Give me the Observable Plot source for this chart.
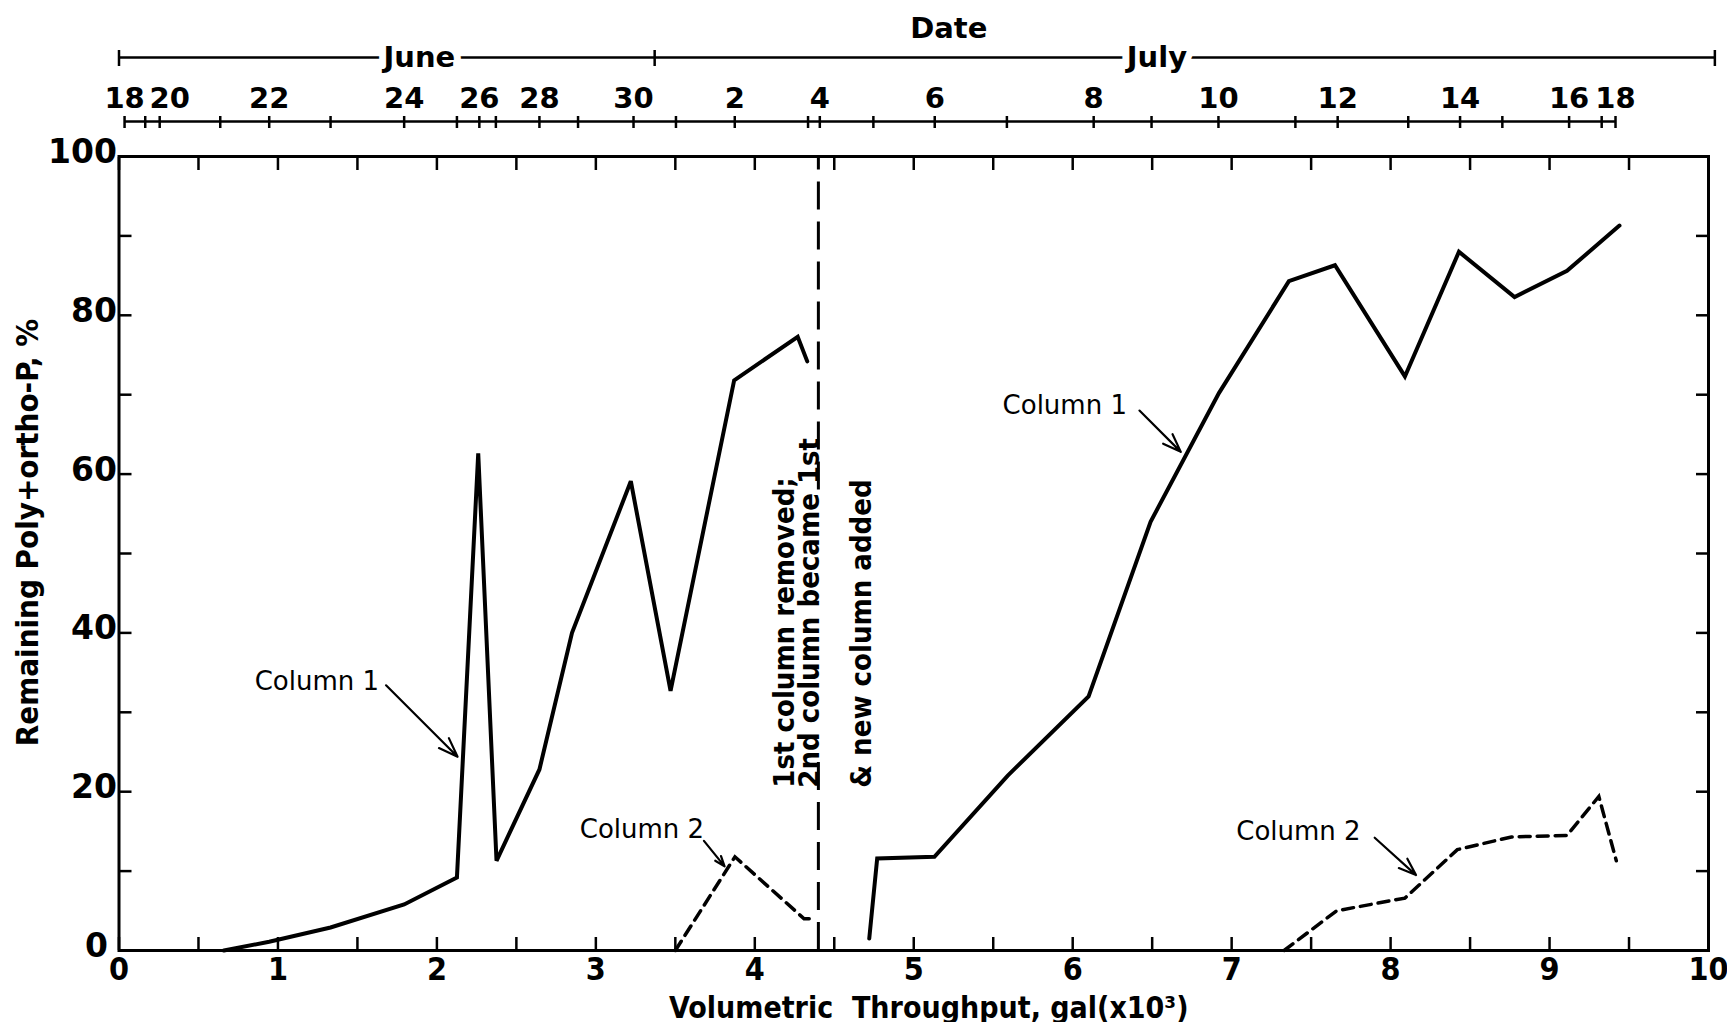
<!DOCTYPE html>
<html>
<head>
<meta charset="utf-8">
<script src="https://cdn.jsdelivr.net/npm/d3@7"></script>
<script src="https://cdn.jsdelivr.net/npm/@observablehq/plot@0.6"></script>
<style>
  html, body { margin: 0; padding: 0; background: #fff; }
  #chart svg { display: block; background: #fff; }
</style>
</head>
<body>
<div id="chart"></div>
<script>
// Remaining poly+ortho-P (%) against volumetric throughput (gal × 10³)

// Column 1, first run (June 21 – July 3)
const col1RunAX = [0.66, 0.945, 1.331, 1.794, 2.126, 2.26, 2.375, 2.645, 2.85, 3.22, 3.47, 3.87, 4.27, 4.33];
const col1RunAY = [0, 1.1, 2.9, 5.8, 9.2, 62.6, 11.3, 22.8, 40.0, 59.1, 32.7, 71.8, 77.3, 74.2];
// Column 1, second run (after the change-over)
const col1RunBX = [4.72, 4.77, 5.13, 5.59, 6.10, 6.49, 6.92, 7.36, 7.65, 8.09, 8.43, 8.78, 9.11, 9.44];
const col1RunBY = [1.5, 11.6, 11.8, 22.0, 32.0, 54.0, 70.2, 84.3, 86.3, 72.3, 88.0, 82.3, 85.6, 91.3];
// Column 2, first run
const col2RunAX = [3.50, 3.875, 4.31, 4.38];
const col2RunAY = [0, 11.8, 4.0, 4.0];
// Column 2, second run
const col2RunBX = [7.33, 7.66, 8.09, 8.42, 8.76, 9.11, 9.31, 9.42];
const col2RunBY = [0, 5.0, 6.6, 12.7, 14.3, 14.5, 19.4, 11.3];

// Column change-over
const changeoverX = 4.40;
const changeoverSpans = [[0, 24], [58, 100]];
const changeoverNote = ["1st column removed;", "2nd column became 1st", "& new column added"];
const changeoverNoteX = [4.19, 4.345, 4.67];
const changeoverNoteY = 20.5;

// Date scale along the top: sampling day positions in throughput units
const dateX = [0.035, 0.165, 0.256, 0.637, 0.945, 1.331, 1.794, 2.126, 2.267, 2.371, 2.645, 2.888, 3.237,
               3.504, 3.874, 4.335, 4.409, 4.746, 5.132, 5.586, 6.132, 6.496, 6.917, 7.401, 7.667, 8.111,
               8.437, 8.703, 9.123, 9.328, 9.415];
const dateDay = [18, 19, 20, 21, 22, 23, 24, 25, 26, 27, 28, 29, 30,
                 1, 2, 3, 4, 5, 6, 7, 8, 9, 10, 11, 12, 13, 14, 15, 16, 17, 18];
const monthNames = ["June", "July"];
const monthLabelX = [1.89, 6.53];
const monthBreaksX = [0, 3.37, 10.04];

// Axis ticks
const xTickLabels = [0, 1, 2, 3, 4, 5, 6, 7, 8, 9, 10];
const xMinorTicks = d3.range(0, 21).map(i => i / 2);
const yTickLabels = [0, 20, 40, 60, 80, 100];
const yMinorTicks = d3.range(0, 11).map(i => i * 10);

// Curve labels with their pointers
const noteLabels = ["Column 1", "Column 2", "Column 1", "Column 2"];
const noteX = [1.245, 3.29, 5.95, 7.42];
const noteY = [33.9, 15.2, 68.6, 15.0];
const pointerX1 = [1.68, 3.68, 6.42, 7.90];
const pointerY1 = [33.4, 13.8, 68.0, 14.2];
const pointerX2 = [2.13, 3.81, 6.68, 8.16];
const pointerY2 = [24.4, 10.6, 62.8, 9.5];

function rows(run, xs, ys) { return xs.map((x, i) => ({run, x, y: ys[i]})); }
const col1 = [...rows("a", col1RunAX, col1RunAY), ...rows("b", col1RunBX, col1RunBY)];
const col2 = [...rows("a", col2RunAX, col2RunAY), ...rows("b", col2RunBX, col2RunBY)];
const dates = dateX.map((x, i) => ({x, day: dateDay[i]}));
const notes = noteLabels.map((t, i) => ({t, x: noteX[i], y: noteY[i]}));
const pointers = pointerX1.map((x1, i) => ({x1, y1: pointerY1[i], x2: pointerX2[i], y2: pointerY2[i]}));

const bold = "bold";
const wideFont = "'DejaVu Sans', 'Liberation Sans', sans-serif";
const narrowFont = "'Liberation Sans Narrow', 'DejaVu Sans Condensed', 'Roboto Condensed', 'Liberation Sans', sans-serif";
const plainFont = "'DejaVu Sans', 'Liberation Sans', sans-serif";
const yLabelStyle = {frameAnchor: "left", textAnchor: "end", dy: -4, lineAnchor: "middle",
  fontSize: 33, fontWeight: bold, fontFamily: wideFont, fill: "#000"};

const chart = Plot.plot({
  width: 1727,
  height: 1022,
  marginLeft: 118.5,
  marginRight: 19,
  marginTop: 156,
  marginBottom: 72,
  x: {domain: [0, 10], axis: null},
  y: {domain: [0, 100], axis: null},
  style: {background: "#fff", color: "#000", overflow: "visible"},
  marks: [
    Plot.frame({stroke: "#000", strokeWidth: 3}),

    // inward ticks on all four sides
    Plot.axisX(xMinorTicks, {anchor: "bottom", tickSize: -13, strokeWidth: 2.5, fill: "none"}),
    Plot.axisX(xMinorTicks, {anchor: "top", tickSize: -13, strokeWidth: 2.5, fill: "none"}),
    Plot.axisY(yMinorTicks, {anchor: "left", tickSize: -13, strokeWidth: 2.5, fill: "none"}),
    Plot.axisY(yMinorTicks, {anchor: "right", tickSize: -13, strokeWidth: 2.5, fill: "none"}),

    // tick labels
    Plot.text(xTickLabels, {x: d => d, text: d => String(d), frameAnchor: "bottom", dy: 19,
      lineAnchor: "middle", fontSize: 32, fontWeight: bold, fontFamily: narrowFont, fill: "#000"}),
    Plot.text(yTickLabels.filter(d => d > 0), {y: d => d, text: d => String(d), dx: -2, ...yLabelStyle}),
    Plot.text(yTickLabels.filter(d => d === 0), {y: d => d, text: d => String(d), dx: -11, ...yLabelStyle}),

    // axis titles
    Plot.text(["Volumetric  Throughput, gal(x10³)"], {frameAnchor: "bottom", textAnchor: "middle", dx: 15, dy: 58,
      lineAnchor: "middle", fontSize: 30, fontWeight: bold, fontFamily: narrowFont, fill: "#000"}),
    Plot.text(["Remaining Poly+ortho-P, %"], {frameAnchor: "left", textAnchor: "middle", dx: -91, dy: -21, rotate: -90,
      lineAnchor: "middle", fontSize: 31, fontWeight: bold, fontFamily: narrowFont, fill: "#000"}),

    // date scale along the top
    Plot.ruleY([100], {x1: dateX[0], x2: dateX[dateX.length - 1], dy: -35, strokeWidth: 2.5}),
    Plot.axisX(dateX, {anchor: "top", tickSize: 12, dy: -29, strokeWidth: 2.5, fill: "none"}),
    Plot.text(dates.filter(d => d.day % 2 === 0 && !(d.day === 20)), {x: "x", text: d => String(d.day),
      frameAnchor: "top", dy: -58, lineAnchor: "middle", fontSize: 29, fontWeight: bold, fontFamily: wideFont, fill: "#000"}),
    Plot.text(dates.filter(d => d.day === 20), {x: "x", text: d => String(d.day),
      frameAnchor: "top", dx: 10, dy: -58, lineAnchor: "middle", fontSize: 29, fontWeight: bold, fontFamily: wideFont, fill: "#000"}),

    // month brackets
    Plot.ruleY([100], {x1: monthBreaksX[0], x2: monthBreaksX[2], dy: -99, strokeWidth: 2.5}),
    Plot.axisX(monthBreaksX, {anchor: "top", tickSize: 16, dy: -91, strokeWidth: 2.5, fill: "none"}),
    Plot.text(monthNames, {x: (d, i) => monthLabelX[i], text: d => d, frameAnchor: "top", dy: -99,
      lineAnchor: "middle", fontSize: 29, fontWeight: bold, fontFamily: wideFont, fill: "#000",
      stroke: "#fff", strokeWidth: 14, paintOrder: "stroke"}),
    Plot.text(["Date"], {x: [5.22], frameAnchor: "top", dy: -128, lineAnchor: "middle",
      fontSize: 29, fontWeight: bold, fontFamily: wideFont, fill: "#000"}),

    // change-over marker and note
    Plot.ruleX(changeoverSpans, {x: () => changeoverX, y1: d => d[0], y2: d => d[1],
      strokeWidth: 3, strokeDasharray: "28,12"}),
    Plot.text(changeoverNote, {x: (d, i) => changeoverNoteX[i], y: () => changeoverNoteY, text: d => d,
      rotate: -90, textAnchor: "start", lineAnchor: "middle", fontSize: 29, fontWeight: bold,
      fontFamily: narrowFont, fill: "#000"}),

    // data
    Plot.line(col1, {x: "x", y: "y", z: "run", stroke: "#000", strokeWidth: 4,
      strokeLinejoin: "miter", strokeMiterlimit: 3}),
    Plot.line(col2, {x: "x", y: "y", z: "run", stroke: "#000", strokeWidth: 3.5,
      strokeDasharray: "11,7", strokeLinejoin: "miter", strokeMiterlimit: 3}),

    // curve labels
    Plot.text(notes, {x: "x", y: "y", text: "t", lineAnchor: "middle", fontSize: 26,
      fontFamily: plainFont, fill: "#000"}),
    Plot.arrow(pointers, {x1: "x1", y1: "y1", x2: "x2", y2: "y2", stroke: "#000",
      strokeWidth: 2.2, headLength: 14, headAngle: 40})
  ]
});

document.getElementById("chart").appendChild(chart);
</script>
</body>
</html>
